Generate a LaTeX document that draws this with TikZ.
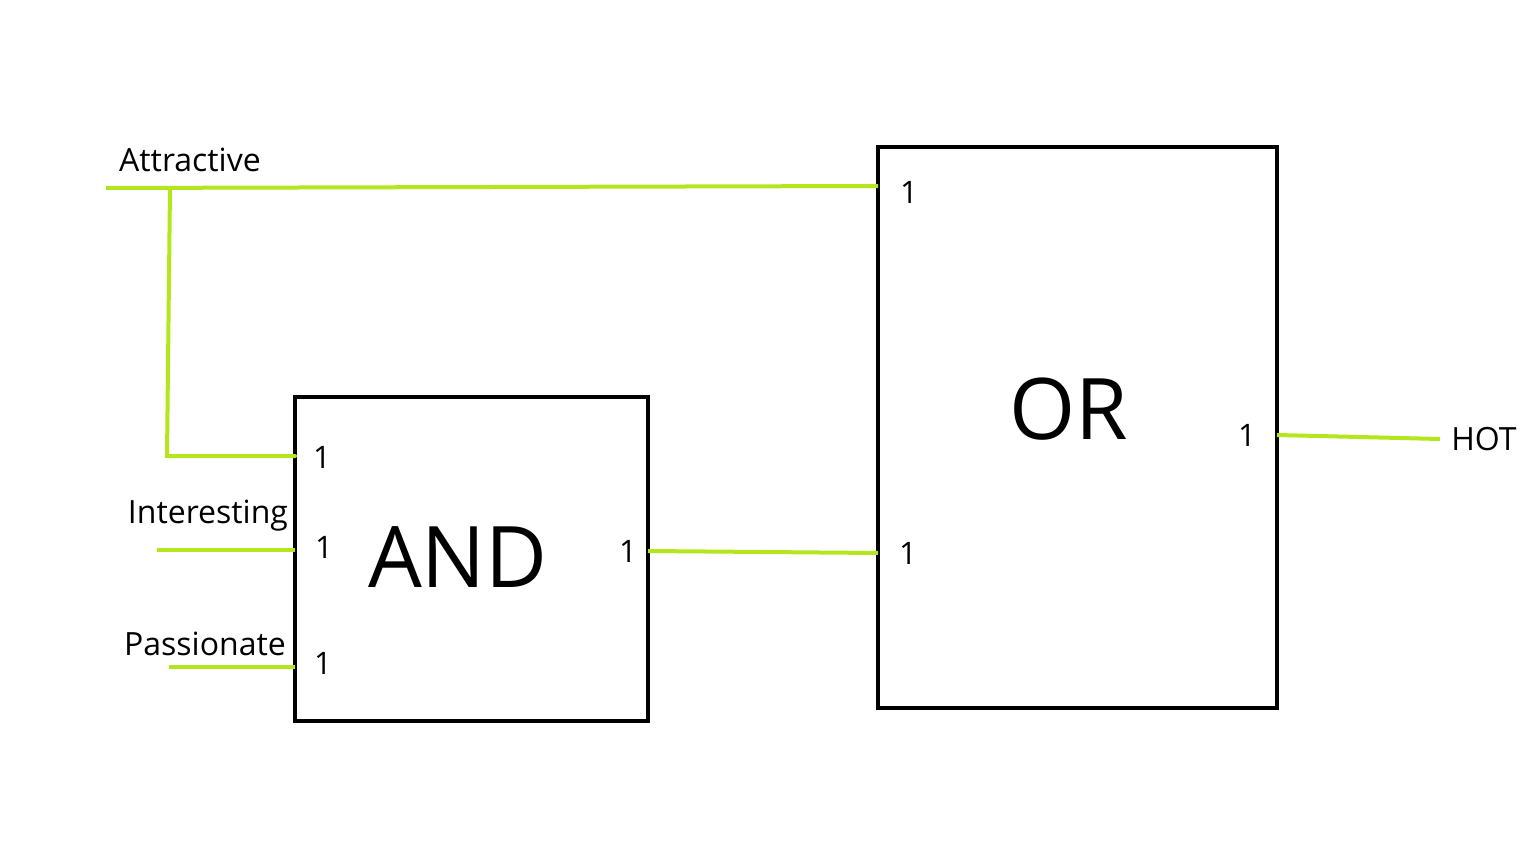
\documentclass[tikz,border=0pt]{standalone}
\usepackage{fontspec}
\setmainfont{Open Sans}
\definecolor{wire}{HTML}{B5E61D}
\begin{document}
\begin{tikzpicture}[x=1pt,y=-1pt,
  gatebox/.style={draw=black,line width=4pt,inner sep=0pt,outer sep=0pt,anchor=north west},
  wireline/.style={draw=wire,line width=4pt},
  lbl/.style={font=\fontsize{32}{38}\selectfont,inner sep=0pt},
  pin/.style={font=\fontsize{31}{36}\selectfont,inner sep=0pt},
  big/.style={font=\fontsize{85}{100}\selectfont,inner sep=0pt}]
\useasboundingbox (0,0) rectangle (1536,864);
% boxes
\node[gatebox,minimum width=353pt,minimum height=324pt] (and) at (295,397) {};
\node[gatebox,minimum width=399pt,minimum height=561pt] (or) at (878,147) {};
\node[big] (andt) at (458,557) {AND};
\node[big] (ort) at (1069,409) {OR};
% pin labels
\node[pin] (a1) at (322,457) {1};
\node[pin] (a2) at (324,547) {1};
\node[pin] (a3) at (323,663) {1};
\node[pin] (ao) at (628,551) {1};
\node[pin] (o1) at (909,192) {1};
\node[pin] (o2) at (908,553) {1};
\node[pin] (oo) at (1247,435) {1};
% labels
\node[lbl] (attr) at (190,160) {Attractive};
\node[lbl] (inter) at (208,516) {Interesting};
\node[lbl] (pass) at (205,644) {Passionate};
\node[lbl] (hot) at (1484,439) {HOT};
% wire ends
\coordinate (attrL) at (106,188);
\coordinate (tap) at (170,188);
\coordinate (bend) at (167,456);
\coordinate (interL) at (157,550);
\coordinate (passL) at (169,667);
\coordinate (hotR) at (1440,439);
% wires
\draw[wireline] (attrL) -- (or.west|-0,186);
\draw[wireline,line cap=round] (tap) -- (bend) -- (and.west|-bend);
\draw[wireline] (interL) -- (and.west|-interL);
\draw[wireline] (passL) -- (and.west|-passL);
\draw[wireline] (and.east|-0,551) -- (or.west|-0,553);
\draw[wireline] (or.east|-0,435) -- (hotR);
\end{tikzpicture}
\end{document}
